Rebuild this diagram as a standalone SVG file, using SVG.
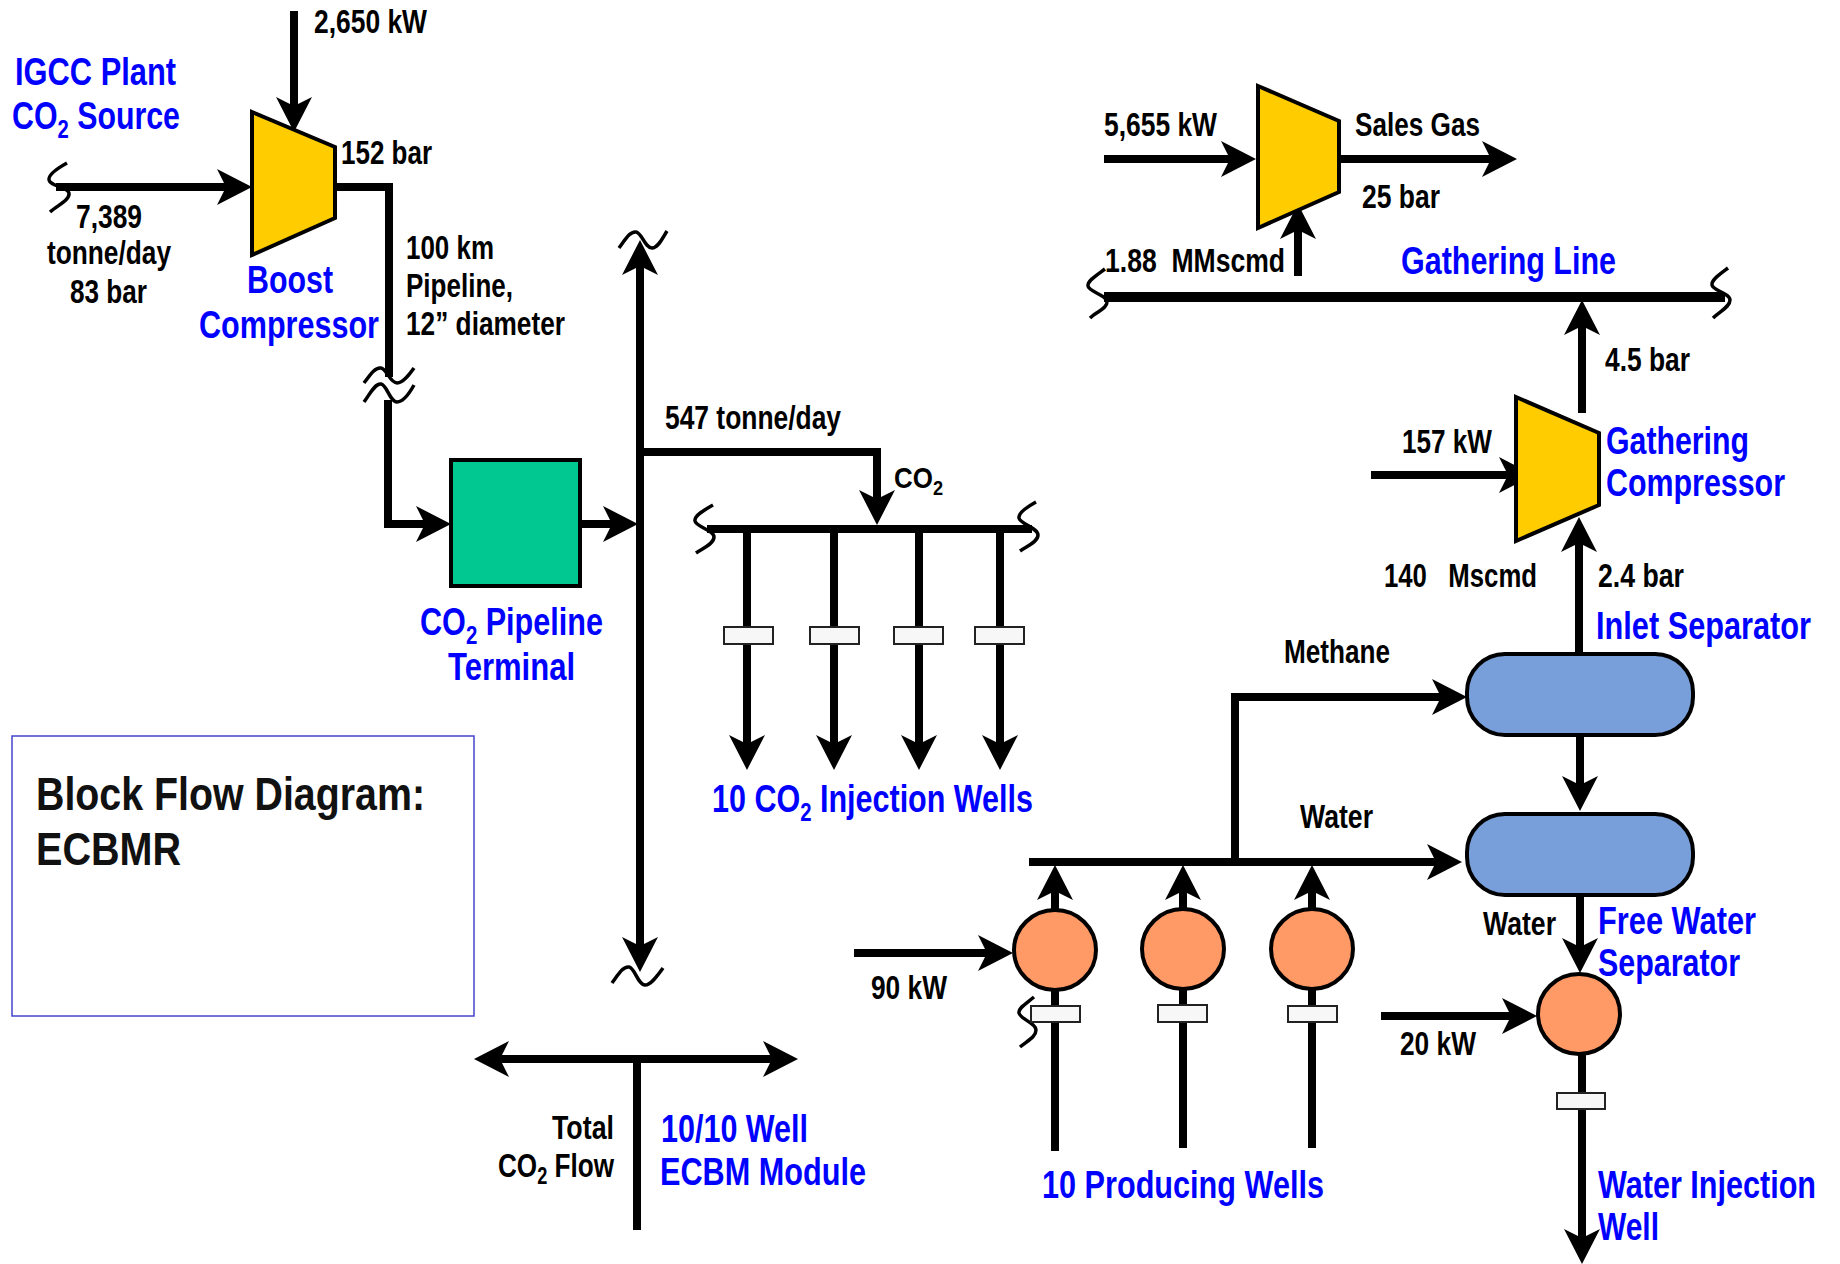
<svg xmlns="http://www.w3.org/2000/svg" width="1840" height="1264" viewBox="0 0 1840 1264">
<style>
text{font-family:"Liberation Sans",Arial,sans-serif;font-weight:700;white-space:pre}
.k{font-size:33px;fill:#000}
.b{font-size:39px;fill:#0000ff}
.t{font-size:47px;fill:#111}
.p{fill:none;stroke:#000;stroke-width:8;stroke-linejoin:miter}
.h{stroke-width:10}
.a{marker-end:url(#ah)}
.s{marker-start:url(#ah)}
.w{fill:none;stroke:#000;stroke-width:3.5;stroke-linecap:butt}
.comp{fill:#ffcc00;stroke:#000;stroke-width:4}
.term{fill:#00c890;stroke:#000;stroke-width:4}
.sep{fill:#789fd9;stroke:#000;stroke-width:4}
.mot{fill:#ff9966;stroke:#000;stroke-width:4}
.val{fill:#f7f7f7;stroke:#222;stroke-width:2}
.box{fill:#fff;stroke:#4444cc;stroke-width:1.5}
</style>
<defs>
<marker id="ah" markerUnits="userSpaceOnUse" viewBox="0 -20 40 40" markerWidth="40" markerHeight="40" refX="15" refY="0" orient="auto-start-reverse">
<path d="M0,-18 L35,0 L0,18 L9,0z" fill="#000"/>
</marker>
</defs>
<g id="connectors">
<path class="p a" d="M294,11 V112"/>
<path class="p a" d="M56,187 H232"/>
<path class="p" d="M335,187 H389 V377"/>
<path class="p a" d="M388,400 V524 H431"/>
<path class="p a" d="M580,524 H618"/>
<path class="p a s" d="M640,260 V952"/>
<path class="p a" d="M640,452 H877 V505"/>
<path class="p" d="M707,529 H1032"/>
<path class="p a" d="M747,529 V750"/>
<path class="p a" d="M834,529 V750"/>
<path class="p a" d="M919,529 V750"/>
<path class="p a" d="M1000,529 V750"/>
<path class="p a s" d="M494,1059 H778"/>
<path class="p" d="M637,1059 V1230"/>
<path class="p a" d="M1104,159 H1236"/>
<path class="p a" d="M1339,159 H1497"/>
<path class="p a" d="M1298,276 V224"/>
<path class="p h" d="M1104,297 H1725"/>
<path class="p a" d="M1582,413 V320"/>
<path class="p a" d="M1371,475 H1514"/>
<path class="p a" d="M1579,654 V537"/>
<path class="p a" d="M1235,862 V697 H1447"/>
<path class="p a" d="M1029,862 H1442"/>
<path class="p a" d="M1580,735 V791"/>
<path class="p a" d="M1580,894 V953"/>
<path class="p a" d="M1055,910 V885"/>
<path class="p a" d="M1183,910 V885"/>
<path class="p a" d="M1312,910 V885"/>
<path class="p" d="M1055,991 V1151"/>
<path class="p" d="M1183,988 V1148"/>
<path class="p" d="M1312,988 V1148"/>
<path class="p a" d="M854,953 H993"/>
<path class="p a" d="M1381,1016 H1517"/>
<path class="p a" d="M1582,1055 V1244"/>
<path class="w" d="M67,163 C58,168 48,175 49,180 C50,186 68,187 69,193 C70,200 58,205 50,212"/>
<path class="w" d="M364,383 C370,375 375,367 381,368 C387,369 390,383 397,383 C403,383 409,375 414,368"/>
<path class="w" d="M364,402 C370,394 375,383 381,384 C387,385 390,402 397,402 C403,402 409,394 414,385"/>
<path class="w" d="M619,248 C625,240 630,231 636,232 C642,233 645,248 652,248 C658,248 662,239 667,231"/>
<path class="w" d="M612,983 C618,975 623,966 629,967 C635,968 638,985 645,985 C651,985 657,976 663,968"/>
<path class="w" d="M713,505 C704,510 694,516 695,521 C696,527 714,530 714,537 C714,544 703,548 696,553"/>
<path class="w" d="M1036,502 C1027,507 1018,513 1019,518 C1020,524 1038,528 1038,535 C1038,542 1027,546 1020,551"/>
<path class="w" d="M1105,269 C1097,275 1087,281 1088,286 C1089,292 1107,295 1107,302 C1107,309 1097,311 1090,318"/>
<path class="w" d="M1728,268 C1720,274 1711,280 1712,285 C1713,291 1730,293 1730,300 C1730,307 1720,311 1713,318"/>
<path class="w" d="M1034,997 C1027,1003 1018,1008 1019,1013 C1020,1019 1036,1023 1036,1030 C1036,1037 1027,1041 1020,1047"/>
</g>
<g id="igcc-source">
<text class="b" x="15" y="85" textLength="161" lengthAdjust="spacingAndGlyphs">IGCC Plant</text>
<text class="b" x="12" y="129" textLength="168" lengthAdjust="spacingAndGlyphs">CO<tspan font-size="26" dy="9">2</tspan><tspan dy="-9"> Source</tspan></text>
<text class="k" x="76" y="228" textLength="66" lengthAdjust="spacingAndGlyphs">7,389</text>
<text class="k" x="47" y="264" textLength="124" lengthAdjust="spacingAndGlyphs">tonne/day</text>
<text class="k" x="70" y="303" textLength="77" lengthAdjust="spacingAndGlyphs">83 bar</text>
</g>
<g id="boost-compressor">
<polygon class="comp" points="252,112 335,147 335,218 252,255"/>
<text class="k" x="314" y="33" textLength="113" lengthAdjust="spacingAndGlyphs">2,650 kW</text>
<text class="k" x="341" y="164" textLength="91" lengthAdjust="spacingAndGlyphs">152 bar</text>
<text class="b" x="247" y="293" textLength="86" lengthAdjust="spacingAndGlyphs">Boost</text>
<text class="b" x="199" y="338" textLength="180" lengthAdjust="spacingAndGlyphs">Compressor</text>
</g>
<g id="pipeline-label">
<text class="k" x="406" y="259" textLength="88" lengthAdjust="spacingAndGlyphs">100 km</text>
<text class="k" x="406" y="297" textLength="107" lengthAdjust="spacingAndGlyphs">Pipeline,</text>
<text class="k" x="406" y="335" textLength="159" lengthAdjust="spacingAndGlyphs">12” diameter</text>
</g>
<g id="pipeline-terminal">
<rect class="term" x="451" y="460" width="129" height="126"/>
<text class="b" x="420" y="635" textLength="183" lengthAdjust="spacingAndGlyphs">CO<tspan font-size="26" dy="9">2</tspan><tspan dy="-9"> Pipeline</tspan></text>
<text class="b" x="448" y="680" textLength="127" lengthAdjust="spacingAndGlyphs">Terminal</text>
</g>
<g id="injection-wells">
<rect class="val" x="724" y="627" width="49" height="17"/>
<rect class="val" x="810" y="627" width="49" height="17"/>
<rect class="val" x="894" y="627" width="49" height="17"/>
<rect class="val" x="975" y="627" width="49" height="17"/>
<text class="k" x="665" y="429" textLength="176" lengthAdjust="spacingAndGlyphs">547 tonne/day</text>
<text x="894" y="488" font-size="30" textLength="49" lengthAdjust="spacingAndGlyphs">CO<tspan font-size="21" dy="7">2</tspan></text>
<text class="b" x="712" y="812" textLength="321" lengthAdjust="spacingAndGlyphs">10 CO<tspan font-size="26" dy="9">2</tspan><tspan dy="-9"> Injection Wells</tspan></text>
</g>
<g id="legend">
<rect class="box" x="12" y="736" width="462" height="280"/>
<text class="t" x="36" y="810" textLength="389" lengthAdjust="spacingAndGlyphs">Block Flow Diagram:</text>
<text class="t" x="36" y="865" textLength="145" lengthAdjust="spacingAndGlyphs">ECBMR</text>
</g>
<g id="ecbm-module">
<text class="k" x="552" y="1139" textLength="62" lengthAdjust="spacingAndGlyphs">Total</text>
<text class="k" x="498" y="1177" textLength="116" lengthAdjust="spacingAndGlyphs">CO<tspan font-size="23" dy="7">2</tspan><tspan dy="-7"> Flow</tspan></text>
<text class="b" x="661" y="1142" textLength="147" lengthAdjust="spacingAndGlyphs">10/10 Well</text>
<text class="b" x="660" y="1185" textLength="206" lengthAdjust="spacingAndGlyphs">ECBM Module</text>
</g>
<g id="sales-compressor">
<polygon class="comp" points="1258,86 1339,121 1339,192 1258,228"/>
<text class="k" x="1104" y="136" textLength="113" lengthAdjust="spacingAndGlyphs">5,655 kW</text>
<text class="k" x="1355" y="136" textLength="125" lengthAdjust="spacingAndGlyphs">Sales Gas</text>
<text class="k" x="1362" y="208" textLength="78" lengthAdjust="spacingAndGlyphs">25 bar</text>
<text class="k" x="1105" y="272" textLength="180" lengthAdjust="spacingAndGlyphs">1.88  MMscmd</text>
</g>
<g id="gathering-line">
<text class="b" x="1401" y="274" textLength="215" lengthAdjust="spacingAndGlyphs">Gathering Line</text>
<text class="k" x="1605" y="371" textLength="85" lengthAdjust="spacingAndGlyphs">4.5 bar</text>
</g>
<g id="gathering-compressor">
<polygon class="comp" points="1516,397 1599,433 1599,505 1516,541"/>
<text class="k" x="1402" y="453" textLength="90" lengthAdjust="spacingAndGlyphs">157 kW</text>
<text class="b" x="1606" y="454" textLength="143" lengthAdjust="spacingAndGlyphs">Gathering</text>
<text class="b" x="1606" y="496" textLength="179" lengthAdjust="spacingAndGlyphs">Compressor</text>
<text class="k" x="1384" y="587" textLength="153" lengthAdjust="spacingAndGlyphs">140   Mscmd</text>
<text class="k" x="1598" y="587" textLength="86" lengthAdjust="spacingAndGlyphs">2.4 bar</text>
</g>
<g id="inlet-separator">
<rect class="sep" x="1467" y="654" width="226" height="81" rx="38" ry="38"/>
<text class="b" x="1596" y="639" textLength="215" lengthAdjust="spacingAndGlyphs">Inlet Separator</text>
<text class="k" x="1284" y="663" textLength="106" lengthAdjust="spacingAndGlyphs">Methane</text>
</g>
<g id="free-water-separator">
<rect class="sep" x="1467" y="814" width="226" height="81" rx="38" ry="38"/>
<text class="k" x="1300" y="828" textLength="73" lengthAdjust="spacingAndGlyphs">Water</text>
<text class="k" x="1483" y="935" textLength="73" lengthAdjust="spacingAndGlyphs">Water</text>
<text class="b" x="1598" y="934" textLength="158" lengthAdjust="spacingAndGlyphs">Free Water</text>
<text class="b" x="1598" y="976" textLength="142" lengthAdjust="spacingAndGlyphs">Separator</text>
</g>
<g id="producing-well-1">
<rect class="val" x="1031" y="1006" width="49" height="16"/>
<ellipse class="mot" cx="1055" cy="950" rx="41" ry="40"/>
<text class="k" x="871" y="999" textLength="76" lengthAdjust="spacingAndGlyphs">90 kW</text>
</g>
<g id="producing-well-2">
<rect class="val" x="1158" y="1005" width="49" height="17"/>
<ellipse class="mot" cx="1183" cy="949" rx="41" ry="40"/>
</g>
<g id="producing-well-3">
<rect class="val" x="1288" y="1006" width="49" height="16"/>
<ellipse class="mot" cx="1312" cy="949" rx="41" ry="40"/>
<text class="b" x="1042" y="1198" textLength="282" lengthAdjust="spacingAndGlyphs">10 Producing Wells</text>
</g>
<g id="water-injection-well">
<rect class="val" x="1557" y="1093" width="48" height="16"/>
<ellipse class="mot" cx="1579" cy="1014" rx="41" ry="40"/>
<text class="k" x="1400" y="1055" textLength="76" lengthAdjust="spacingAndGlyphs">20 kW</text>
<text class="b" x="1598" y="1198" textLength="218" lengthAdjust="spacingAndGlyphs">Water Injection</text>
<text class="b" x="1598" y="1240" textLength="61" lengthAdjust="spacingAndGlyphs">Well</text>
</g>
</svg>
